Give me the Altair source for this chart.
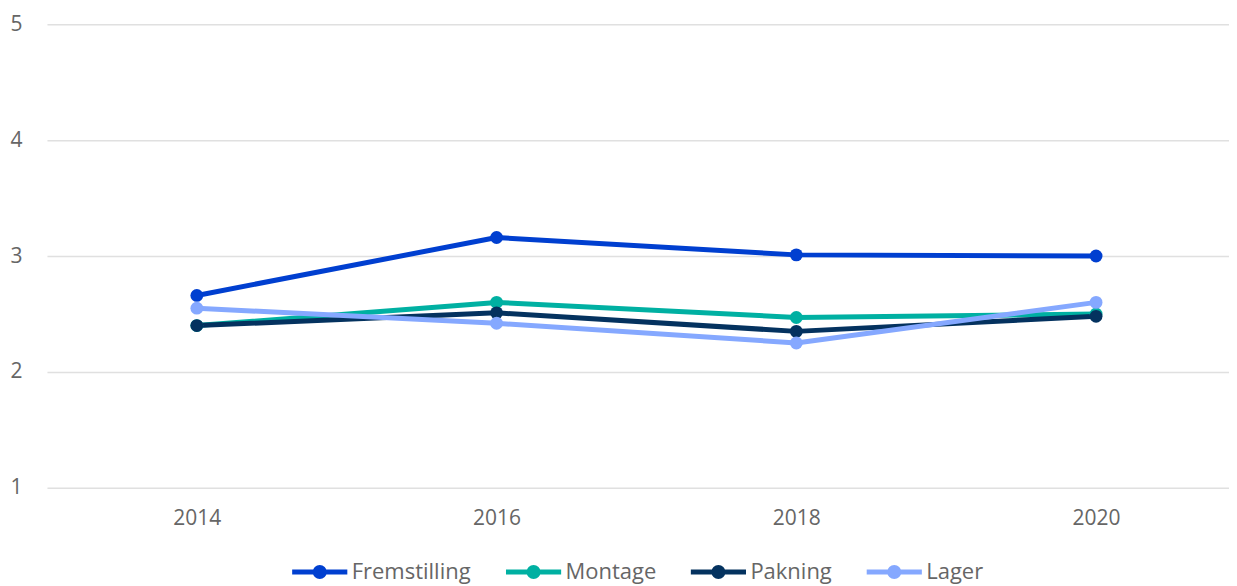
import altair as alt
import pandas as pd

years = [2014, 2016, 2018, 2020]
series_names = ["Fremstilling", "Montage", "Pakning", "Lager"]
fremstilling = [2.66, 3.16, 3.01, 3.00]
montage = [2.40, 2.60, 2.47, 2.50]
pakning = [2.40, 2.51, 2.35, 2.48]
lager = [2.55, 2.42, 2.25, 2.60]
colors = ["#003fd0", "#00b0a2", "#04325f", "#85a8ff"]
y_ticks = [1, 2, 3, 4, 5]

values = [fremstilling, montage, pakning, lager]
rows = []
for si, (name, vals) in enumerate(zip(series_names, values)):
    for yr, v in zip(years, vals):
        rows.append({"year": yr, "value": v, "series": name, "order": si})
df = pd.DataFrame(rows)

FONT = "Open Sans"
GREY = "#666666"

# line + dot legend symbol (unit path scaled by sqrt(size)/2)
sym = ("M-4.6,0L4.6,0 "
       "M0.75,0A0.75,0.75 0 1,1 -0.75,0A0.75,0.75 0 1,1 0.75,0 "
       "M0.3,0A0.3,0.3 0 1,1 -0.3,0A0.3,0.3 0 1,1 0.3,0")

color = alt.Color(
    "series:N",
    sort=series_names,
    scale=alt.Scale(domain=series_names, range=colors),
    legend=alt.Legend(
        title=None,
        orient="none",
        direction="horizontal",
        legendX=262,
        legendY=537,
        symbolType=sym,
        symbolSize=144,
        symbolStrokeWidth=5,
        labelFont=FONT,
        labelFontSize=22,
        labelColor=GREY,
        labelOffset=21,
        columnPadding=24,
        padding=0,
    ),
)

x = alt.X(
    "year:Q",
    scale=alt.Scale(domain=[2013, 2020.887], nice=False, zero=False),
    axis=alt.Axis(
        title=None,
        values=years,
        format="d",
        grid=False,
        ticks=False,
        tickSize=0,
        domain=False,
        labelFont=FONT,
        labelFontSize=21,
        labelColor=GREY,
        labelPadding=20,
    ),
)
y = alt.Y(
    "value:Q",
    scale=alt.Scale(domain=[1, 5], nice=False, zero=False),
    axis=alt.Axis(
        title=None,
        values=y_ticks,
        grid=True,
        gridColor="#e0e0e0",
        gridWidth=1.5,
        ticks=False,
        tickSize=0,
        domain=False,
        labelFont=FONT,
        labelFontSize=21,
        labelColor=GREY,
        labelPadding=25,
    ),
)

base = alt.Chart(df)
lines = base.mark_line(strokeWidth=5, strokeCap="round", strokeJoin="round").encode(
    x=x, y=y, color=color, detail="series:N", order="year:Q"
)
points = base.mark_circle(size=165, opacity=1).encode(
    x=x, y=y, color=alt.Color("series:N", sort=series_names,
                              scale=alt.Scale(domain=series_names, range=colors),
                              legend=None)
)

chart = (
    alt.layer(lines, points)
    .properties(
        width=1183,
        height=464,
        padding={"left": 1, "top": 5, "right": 0, "bottom": 0},
        view=alt.ViewBackground(stroke="transparent", strokeWidth=0),
    )
    .configure_view(stroke="transparent", strokeWidth=0, strokeOpacity=0)
    .configure_axis(domain=False, ticks=False)
    .configure_axisX(grid=False, domain=False)
    .configure_axisY(domain=False)
    .configure(background="white")
)

chart.save("out.html", embed_options={"renderer": "svg", "actions": False})
